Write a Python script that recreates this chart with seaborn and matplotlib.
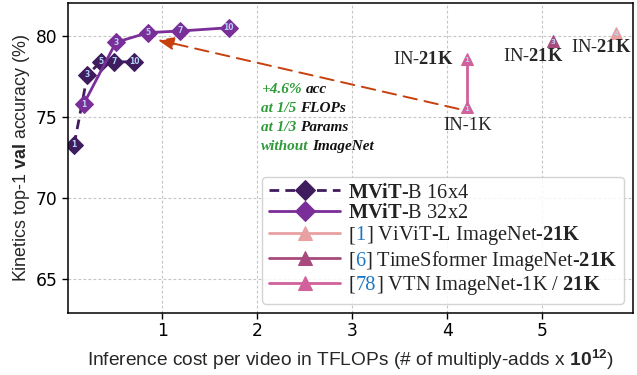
import matplotlib
matplotlib.use("Agg")
import matplotlib.pyplot as plt
import seaborn as sns
import pandas as pd
from matplotlib.offsetbox import TextArea, HPacker, VPacker, AnnotationBbox

# ---------------- data ----------------
views = [1, 3, 5, 7, 10]
flops_16x4 = [0.07, 0.21, 0.35, 0.49, 0.70]
acc_16x4 = [73.3, 77.6, 78.4, 78.4, 78.4]
flops_32x2 = [0.17, 0.51, 0.85, 1.19, 1.70]
acc_32x2 = [75.8, 79.6, 80.2, 80.3, 80.5]
vivit_flops = [5.78]
vivit_acc = [80.2]
vivit_views = [4]
tsf_flops = [5.11]
tsf_acc = [79.7]
tsf_views = [3]
vtn_flops = [4.21, 4.21]
vtn_acc = [75.6, 78.6]
vtn_views = [1, 1]
xticks = [1, 2, 3, 4, 5]
yticks = [65, 70, 75, 80]

# ---------------- style ----------------
sns.set_theme(style="whitegrid")
plt.rcParams.update({
    "font.family": "DejaVu Sans",
    "mathtext.fontset": "custom",
    "mathtext.rm": "Liberation Serif",
    "mathtext.bf": "Liberation Serif:bold",
    "mathtext.it": "Liberation Serif:italic",
    "mathtext.sf": "Liberation Sans:bold",
    "axes.edgecolor": "black",
    "axes.linewidth": 1.1,
    "grid.color": "#c4c4c4",
    "grid.linestyle": (0, (2.5, 2.0)),
    "grid.linewidth": 0.8,
    "xtick.bottom": True,
    "ytick.left": True,
    "xtick.color": "black",
    "ytick.color": "black",
})

c16 = "#3f1c5e"
c32 = "#7a2e98"
c_vivit = "#e8a0a2"
c_tsf = "#a84a7c"
c_vtn = "#d2609a"
num_color = "#b2d2f5"

fig, ax = plt.subplots(figsize=(6.37, 3.75), dpi=100)
fig.subplots_adjust(left=0.106, right=0.994, bottom=0.166, top=0.991)

common = dict(ax=ax, linewidth=2.0, sort=False, estimator=None)
sns.lineplot(x=flops_16x4, y=acc_16x4, color=c16, linestyle=(0, (3.5, 2.2)),
             marker="D", markersize=9, markeredgecolor=c16, label="MViT-B 16x4", **common)
sns.lineplot(x=flops_32x2, y=acc_32x2, color=c32, marker="D", markersize=9,
             markeredgecolor=c32, label="MViT-B 32x2", **common)
sns.lineplot(x=vivit_flops, y=vivit_acc, color=c_vivit, marker="^", markersize=8.8,
             markeredgecolor=c_vivit, label="ViViT", **common)
sns.lineplot(x=tsf_flops, y=tsf_acc, color=c_tsf, marker="^", markersize=8.8,
             markeredgecolor=c_tsf, label="TimeSformer", **common)
sns.lineplot(x=vtn_flops, y=vtn_acc, color=c_vtn, marker="^", markersize=8.8,
             markeredgecolor=c_vtn, label="VTN", **common)

# numbers inside markers
for xs, ys, vs, dy, fsz in [(flops_16x4, acc_16x4, views, 0, 5.5),
                            (flops_32x2, acc_32x2, views, 0, 5.5),
                            (vivit_flops, vivit_acc, vivit_views, -1.2, 5),
                            (tsf_flops, tsf_acc, tsf_views, -1.2, 5),
                            (vtn_flops, vtn_acc, vtn_views, -1.2, 5)]:
    for x, y, v in zip(xs, ys, vs):
        ax.annotate(str(v), (x, y), xytext=(0, dy), textcoords="offset points",
                    ha="center", va="center", fontsize=fsz, fontweight="bold",
                    color=num_color, zorder=5)

# IN labels
serif = "Liberation Serif"
lab_fs = 13.3
ax.text(3.75, 78.55, r"IN-$\mathbf{21K}$", ha="center", va="center", fontsize=lab_fs, family=serif)
ax.text(4.91, 78.72, r"IN-$\mathbf{21K}$", ha="center", va="center", fontsize=lab_fs, family=serif)
ax.text(5.62, 79.28, r"IN-$\mathbf{21K}$", ha="center", va="center", fontsize=lab_fs, family=serif)
ax.text(4.21, 74.48, "IN-1K", ha="center", va="center", fontsize=lab_fs, family=serif)

# arrow
ax.annotate("", xy=(0.95, 79.75), xytext=(4.12, 75.5),
            arrowprops=dict(arrowstyle="-|>,head_length=0.8,head_width=0.32",
                            color="#c8400e", lw=1.4, linestyle=(0, (7, 4)),
                            shrinkA=0, shrinkB=0))

# green annotation block
green = "#2e9a38"
tp = dict(family=serif, fontsize=11, fontweight="bold", fontstyle="italic")
block_lines = [("+4.6%", "acc"), ("at 1/5", "FLOPs"), ("at 1/3", "Params"), ("without", "ImageNet")]
rows = []
for g, b in block_lines:
    rows.append(HPacker(children=[TextArea(g, textprops=dict(color=green, **tp)),
                                  TextArea(b, textprops=dict(color="#111111", **tp))],
                        align="baseline", sep=2.7, pad=0))
vbox = VPacker(children=rows, align="left", sep=4.4, pad=0)
ab = AnnotationBbox(vbox, (2.04, 77.1), xycoords="data", box_alignment=(0, 1),
                    frameon=False, pad=0)
ax.add_artist(ab)

ax.set_xlim(0.0, 5.96)
ax.set_ylim(62.95, 82.0)
ax.set_xticks(xticks)
ax.set_yticks(yticks)
ax.tick_params(axis="both", labelsize=12.3, length=4, width=1, pad=3)

ax.set_xlabel(r"Inference cost per video in TFLOPs (# of multiply-adds x $\mathsf{10^{12}}$)",
              family="Liberation Sans", fontsize=13.8, labelpad=5)
ax.set_ylabel(r"Kinetics top-1 $\mathsf{val}$ accuracy (%)", family="Liberation Sans",
              fontsize=12.9, labelpad=3)

fs = 14.7
leg = ax.legend(loc="lower right", prop=dict(family=serif, size=fs), handlelength=3.5,
                handletextpad=0.4, borderaxespad=0.45, labelspacing=0.06, frameon=True,
                framealpha=0.85, edgecolor="#cccccc", borderpad=0.33, markerscale=1.12)

lp = dict(family=serif, fontsize=fs, color="#222222")
blue = "#1f77c4"
label_specs = [
    [(r"$\mathbf{MViT}$-B 16x4", None)],
    [(r"$\mathbf{MViT}$-B 32x2", None)],
    [("[", None), ("1", blue), (r"] ViViT-L ImageNet-$\mathbf{21K}$", None)],
    [("[", None), ("6", blue), (r"] TimeSformer ImageNet-$\mathbf{21K}$", None)],
    [("[", None), ("78", blue), (r"] VTN ImageNet-1K / $\mathbf{21K}$", None)],
]
items = []
for col in leg._legend_handle_box.get_children():
    items.extend(col.get_children())
for item, spec in zip(items, label_specs):
    parts = []
    for s, c in spec:
        props = dict(lp)
        if c is not None:
            props["color"] = c
        parts.append(TextArea(s, textprops=props))
    newbox = HPacker(children=parts, align="baseline", sep=0, pad=0)
    newbox.set_figure(fig)
    ch = item.get_children()
    ch[1] = newbox

fig.savefig("out.png", dpi=100)
